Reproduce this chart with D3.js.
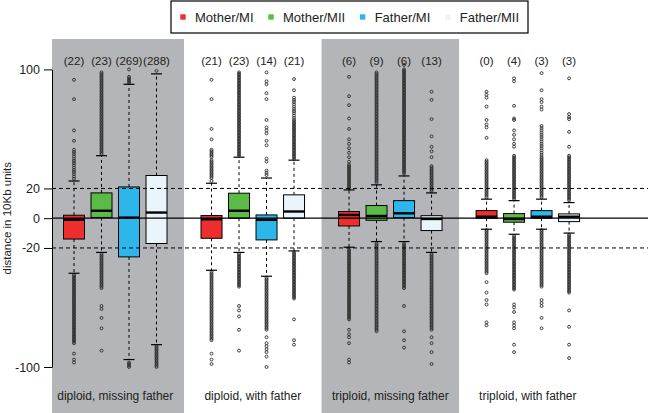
<!DOCTYPE html>
<html><head><meta charset="utf-8">
<script src="https://cdn.jsdelivr.net/npm/d3@7"></script>
<style>html,body{margin:0;padding:0;background:#fff;}svg{display:block;font-family:"Liberation Sans",Arial,sans-serif;}</style>
</head><body>
<svg id="chart" width="648" height="413"></svg>
<script>
// ---------- data ----------
const categories = ["Mother/MI", "Mother/MII", "Father/MI", "Father/MII"];
const groups = ["diploid, missing father", "diploid, with father", "triploid, missing father", "triploid, with father"];
const shadedGroups = [0, 2];
const colors = ["#ec2e2e", "#5cbb47", "#2cb6ea", "#eaf4fb"];
const yTicks = [-100, -20, 0, 20, 100];
const refLines = [-20, 20];

const countsDM = [22, 23, 269, 288];
const countsDW = [21, 23, 14, 21];
const countsTM = [6, 9, 6, 13];
const countsTW = [0, 4, 3, 3];

// [lower whisker, Q1, median, Q3, upper whisker]
const statsDM = [[-37, -14, -1, 2, 25], [-23, 0.5, 5, 17, 42], [-95, -26, 0.4, 21, 90], [-85, -17, 3.8, 28.7, 97]];
const statsDW = [[-35, -13.5, -0.7, 1.8, 23.5], [-23, 0, 5, 16.8, 41], [-39, -14.6, -1.1, 2.2, 27], [-22, 0, 4.5, 15.7, 39]];
const statsTM = [[-19.5, -5.2, 2.2, 4.5, 19], [-15.7, -1.4, 1.5, 8.5, 22.4], [-15.7, 0.4, 3.3, 11.8, 28.4], [-23, -8.3, -0.5, 1.7, 17]];
const statsTW = [[-7.4, 0, 1, 5.1, 12.8], [-10.8, -2.7, -0.5, 3.1, 11.8], [-7.4, 0, 1, 5.1, 12.8], [-10, -2.3, 1, 2.9, 10.5]];

// outlier values
const outDM = [
  [93,80,59,52,46,44.5,43,41.5,40,38.5,37,35.5,34,32.5,31,29.5,28,26.5,
   -38,-39,-40,-41,-42,-43,-44,-45,-46,-47,-48,-49,-50,-51,-52,-53,-54,-55,-56,-57,-58,-59,-60,-61,-62,-63,-64,-65,-66,-67,-68,-69,-70,-71,-72,-73,-74,-75,-76,-77,-78,-79,-80,-81,-82,-83,-84,
   -91,-95,-97],
  [43,44,45,46,47,48,49,50,51,52,53,54,55,56,57,58,59,60,61,62,63,64,65,66,67,68,69,70,71,72,73,74,75,76,77,78,79,80,81,82,83,84,85,86,87,88,89,90,91,92,93,94,95,96,97,98,
   -24,-25,-26,-27,-28,-29,-30,-31,-32,-33,-34,-35,-36,-37,-38,-39,-40,-41,-42,-43,-44,-45,-46,-47,
   -59,-61,-67,-74,-89],
  [91,92,93,94,95,100,-97,-98,-99,-100],
  [99,-86,-87,-88,-89,-90,-91,-92,-93,-94,-95,-96,-97,-98,-99,-100]
];
const outDW = [
  [93,80,60,53,46,45,44,43,42,41,39,38,37,36,35,34,33,32,31,30,29,28,27,25,
   -36,-37,-38,-39,-40,-41,-42,-43,-44,-45,-46,-47,-48,-49,-50,-51,-52,-53,-54,-55,-56,-57,-58,-59,-60,-61,-62,-63,-64,-65,-66,-67,-68,-69,-70,-71,-72,-73,-74,-75,-76,-77,-78,-79,-80,-81,-82,
   -91,-95,-98],
  [42,43,44,45,46,47,48,49,50,51,52,53,54,55,56,57,58,59,60,61,62,63,64,65,66,67,68,69,70,71,72,73,74,75,76,77,78,79,80,81,82,83,84,85,86,87,88,89,90,91,92,93,94,95,96,97,98,
   -24,-25,-26,-27,-28,-29,-30,-31,-32,-33,-34,-35,-36,-37,-38,-39,-40,-41,-42,-43,-44,-45,-46,
   -59,-62,-66,-75,-89],
  [98,92,90,84,80,66,61,59,57,52,49,40,38,32,30.5,29,
   -40,-41,-42,-43,-44,-45,-46,-47,-48,-49,-50,-51,-52,-53,-54,-55,-56,-57,-58,-59,-60,-61,-62,-63,-64,-65,-66,-67,-68,-69,-70,-71,-72,-73,-74,-75,
   -80,-84,-86,-88,-90,-93,-100],
  [93.5,86,81,79.5,78,76.5,75,73.5,72,70.5,69,67.5,66,
   65,64,63,62,61,60,59,58,57,56,55,54,53,52,51,50,49,48,47,46,45,44,43,42,41,40,
   -23,-24,-25,-26,-27,-28,-29,-30,-31,-32,-33,-34,-35,-36,-37,-38,-39,-40,-41,-42,-43,-44,-45,-46,-47,-48,-49,-50,-51,-52,-53,-54,
   -68,-82,-85]
];
const outTM = [
  [95,82,76,67,60,53,50,47,44,41,38,36,35,34,33,32,31,30,29,28,27,26,25,24,23,22,21,20,
   -21,-22,-23,-24,-25,-26,-27,-28,-29,-30,-31,-32,-33,-34,-35,-36,-37,-38,-39,-40,-41,-42,-43,-44,-45,-46,-47,-48,-49,-50,-51,-52,-53,-54,-55,-56,-57,-58,-59,-60,-61,-62,-63,-64,-65,-66,-67,-68,
   -75,-78,-80,-84,-95,-97],
  [24,25,26,27,28,29,30,31,32,33,34,35,36,37,38,39,40,41,42,43,44,45,46,47,48,49,50,51,52,53,54,55,56,57,58,59,60,61,62,63,64,65,66,67,68,69,70,71,72,73,74,75,76,77,78,79,80,81,82,83,84,85,86,87,88,89,90,91,92,93,94,95,96,97,98,
   -17,-18,-19,-20,-21,-22,-23,-24,-25,-26,-27,-28,-29,-30,-31,-32,-33,-34,-35,-36,-37,-38,-39,-40,-41,-42,-43,-44,-45,-46,-47,-48,-49,-50,-51,-52,-53,-54,-55,-56,-57,-58,-59,-60,-61,-62,-63,-64,-65,-66,-67,-68,-69,-70,-71,-72,-73,-74,-75,-76],
  [30,31,32,33,34,35,36,37,38,39,40,41,42,43,44,45,46,47,48,49,50,51,52,53,54,55,56,57,58,59,60,61,62,63,64,65,66,67,68,69,70,71,72,73,74,75,76,77,78,79,80,81,82,83,84,85,86,87,88,89,90,91,92,93,94,95,96,97,98,99,100,103,
   -17,-18,-19,-20,-21,-22,-23,-24,-25,-26,-27,-28,-29,-30,-31,-32,-33,-34,-35,-36,-37,-38,-39,-40,-41,-42,-43,-44,-45,-46,-47,
   -59,-76,-82,-87],
  [85,79.5,66.6,55,48,45,41,35,34,33,32,31,30,29,28,27,26,25,24,23,22,21,20,19,18,
   -24,-25,-26,-27,-28,-29,-30,-31,-32,-33,-34,-35,-36,-37,-38,-39,-40,-41,-42,-43,-44,-45,-46,-47,-48,-49,-50,-51,-52,-53,-54,-55,-56,-57,-58,-59,-60,-61,-62,-63,-64,-65,-66,-67,-68,-69,-70,-71,-72,-73,-74,-75,
   -80,-84,-90,-98]
];
const outTW = [
  [85,83,81,75,66,63,61,54,39,38,37,36,35,34,33,32,31,30,29,28,27,26,25,24,23,22,21,20,19,18,17,16,15,14,
   -8,-9,-10,-11,-12,-13,-14,-15,-16,-17,-18,-19,-20,-21,-22,-23,-24,-25,-26,-27,-28,-29,-30,-31,-32,-33,-34,-35,-36,-37,
   -43,-50,-55,-58,-70,-72],
  [94,92,75.5,67,66,59,56,53,50,48,42,41,40,39,38,37,36,35,34,33,32,31,30,29,28,27,26,25,24,23,22,21,20,19,18,17,16,15,14,13,
   -12,-13,-14,-15,-16,-17,-18,-19,-20,-21,-22,-23,-24,-25,-26,-27,-28,-29,-30,-31,-32,-33,-34,-35,-36,-37,-38,-39,-40,-41,-42,-43,-44,-45,-46,-47,-48,
   -58,-60,-63,-70,-72,-74,-85,-90],
  [97.5,86,80,78,75,73,62,60.5,59,57.5,56,54.5,53,51.5,50,48.5,47,45.5,44,42.5,41,40,39,38,37,36,35,34,33,32,31,30,29,28,27,26,25,24,23,22,21,20,19,18,17,16,15,14,
   -8,-9,-10,-11,-12,-13,-14,-15,-16,-17,-18,-19,-20,-21,-22,-23,-24,-25,-26,-27,-28,-29,-30,-31,-32,-33,-34,-35,-36,-37,-38,-39,-40,-41,-42,-43,-44,-45,-46,
   -55,-57,-59,-67,-74],
  [94,70,68,66.6,58,48,42,41,40,39,38,37,36,35,34,33,32,31,30,29,28,27,26,25,24,23,22,21,20,19,18,17,16,15,14,13,12,
   -11,-12,-13,-14,-15,-16,-17,-18,-19,-20,-21,-22,-23,-24,-25,-26,-27,-28,-29,-30,-31,-32,-33,-34,-35,-36,-37,-38,-39,-40,-41,-42,-43,-44,-45,-46,-47,-48,-49,-50,
   -62,-73,-85,-94]
];

const allCounts = [countsDM, countsDW, countsTM, countsTW];
const allStats = [statsDM, statsDW, statsTM, statsTW];
const allOut = [outDM, outDW, outTM, outTW];

// ---------- drawing ----------
const W = 648, H = 413;
const svg = d3.select("#chart");
const plotLeft = 52, plotTop = 39;
const x = d3.scaleLinear().domain([0.2, 21.87]).range([plotLeft, W]);
const y = d3.scaleLinear().domain([-100, 100]).range([367, 69.4]);
const pos = (g, i) => g * 5 + i + 1;
const boxW = 21, capW = 11;

// shaded panels
shadedGroups.forEach(g => {
  const x0 = Math.max(x(g * 5), plotLeft), x1 = x(g * 5 + 5);
  svg.append("rect").attr("x", x0).attr("y", plotTop).attr("width", x1 - x0).attr("height", H - plotTop)
    .attr("fill", "#b4b5b8");
});

// boxes
allStats.forEach((stats, g) => {
  stats.forEach((s, i) => {
    const cx = x(pos(g, i));
    const [lo, q1, med, q3, hi] = s;
    const gg = svg.append("g");
    // outliers
    gg.selectAll("circle").data(allOut[g][i]).join("circle")
      .attr("cx", cx).attr("cy", d => y(d)).attr("r", 1.45)
      .attr("fill", "none").attr("stroke", "#2a2a2a").attr("stroke-width", 0.9);
    // whiskers
    gg.append("line").attr("x1", cx).attr("x2", cx).attr("y1", y(q3)).attr("y2", y(hi))
      .attr("stroke", "#000").attr("stroke-width", 1).attr("stroke-dasharray", "3,3");
    gg.append("line").attr("x1", cx).attr("x2", cx).attr("y1", y(q1)).attr("y2", y(lo))
      .attr("stroke", "#000").attr("stroke-width", 1).attr("stroke-dasharray", "3,3");
    [lo, hi].forEach(v => gg.append("line").attr("x1", cx - capW / 2).attr("x2", cx + capW / 2)
      .attr("y1", y(v)).attr("y2", y(v)).attr("stroke", "#000").attr("stroke-width", 1.2));
    // box
    gg.append("rect").attr("x", cx - boxW / 2).attr("y", y(q3)).attr("width", boxW).attr("height", y(q1) - y(q3))
      .attr("fill", colors[i]).attr("stroke", "#000").attr("stroke-width", 1);
    gg.append("line").attr("x1", cx - boxW / 2).attr("x2", cx + boxW / 2).attr("y1", y(med)).attr("y2", y(med))
      .attr("stroke", "#000").attr("stroke-width", 2.4);
    // counts
    svg.append("text").attr("x", cx).attr("y", 65).attr("text-anchor", "middle")
      .attr("font-size", "11.5px").attr("fill", "#222").text("(" + allCounts[g][i] + ")");
  });
  svg.append("text").attr("x", x(g * 5 + 2.5)).attr("y", 399.5).attr("text-anchor", "middle")
    .attr("font-size", "12px").attr("fill", "#222").text(groups[g]);
});

// reference lines
svg.append("line").attr("x1", plotLeft).attr("x2", W).attr("y1", y(0)).attr("y2", y(0))
  .attr("stroke", "#000").attr("stroke-width", 1.2);
refLines.forEach(v => svg.append("line").attr("x1", plotLeft).attr("x2", W).attr("y1", y(v)).attr("y2", y(v))
  .attr("stroke", "#000").attr("stroke-width", 1).attr("stroke-dasharray", "4,3"));

// y axis
const axis = d3.axisLeft(y).tickValues(yTicks).tickSize(8).tickSizeOuter(0).tickPadding(4)
  .tickFormat(d => String(d));
const ag = svg.append("g").attr("transform", `translate(${plotLeft},0)`).call(axis);
ag.selectAll("text").attr("font-size", "12.5px").attr("fill", "#222").attr("font-family", "Liberation Sans, Arial, sans-serif");
ag.selectAll("line,path").attr("stroke", "#000").attr("stroke-width", 1);

svg.append("text").attr("transform", `translate(11,${y(0)}) rotate(-90)`).attr("text-anchor", "middle")
  .attr("font-size", "11.5px").attr("fill", "#222").text("distance in 10Kb units");

// legend
const lg = svg.append("g");
lg.append("rect").attr("x", 171).attr("y", 1).attr("width", 357).attr("height", 32)
  .attr("fill", "#fff").attr("stroke", "#000").attr("stroke-width", 1.2);
let sx = 183;
categories.forEach((c, i) => {
  lg.append("rect").attr("x", sx - 2.7).attr("y", 17 - 2.7).attr("width", 5.4).attr("height", 5.4).attr("fill", colors[i]);
  const t = lg.append("text").attr("x", sx + 12).attr("y", 21.5).attr("font-size", "13px").attr("fill", "#222").text(c);
  sx += 12 + t.node().getComputedTextLength() + 17.5;
});
</script>
</body></html>
